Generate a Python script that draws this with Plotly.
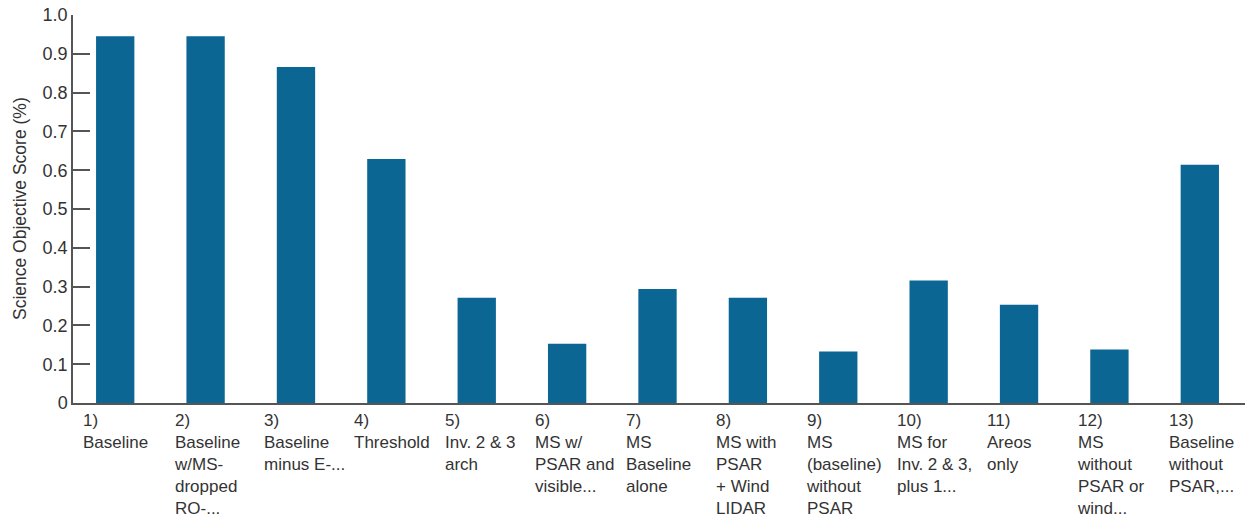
import plotly.graph_objects as go

categories = [
    "1)<br>Baseline",
    "2)<br>Baseline<br>w/MS-<br>dropped<br>RO-...",
    "3)<br>Baseline<br>minus E-...",
    "4)<br>Threshold",
    "5)<br>Inv. 2 & 3<br>arch",
    "6)<br>MS w/<br>PSAR and<br>visible...",
    "7)<br>MS<br>Baseline<br>alone",
    "8)<br>MS with<br>PSAR<br>+ Wind<br>LIDAR",
    "9)<br>MS<br>(baseline)<br>without<br>PSAR",
    "10)<br>MS for<br>Inv. 2 & 3,<br>plus 1...",
    "11)<br>Areos<br>only",
    "12)<br>MS<br>without<br>PSAR or<br>wind...",
    "13)<br>Baseline<br>without<br>PSAR,...",
]
scores = [0.945, 0.945, 0.866, 0.629, 0.271, 0.153, 0.294, 0.271, 0.133, 0.316, 0.253, 0.138, 0.614]

y_tickvals = [0, 0.1, 0.2, 0.3, 0.4, 0.5, 0.6, 0.7, 0.8, 0.9, 1.0]
y_ticktext = ["0", "0.1", "0.2", "0.3", "0.4", "0.5", "0.6", "0.7", "0.8", "0.9", "1.0"]
y_title = "Science Objective Score (%)"

FONT = "Liberation Sans, Arial, sans-serif"
TEXT = "#333333"
AXIS = "#555555"

fig = go.Figure()
fig.add_trace(go.Bar(
    x=categories,
    y=scores,
    marker=dict(color="#0b6694", line=dict(width=0)),
    width=0.424,
    hoverinfo="x+y",
))

for c in categories:
    fig.add_annotation(
        x=c, xref="x", y=0, yref="paper",
        text=c, showarrow=False,
        xanchor="left", yanchor="top", align="left",
        xshift=-34, yshift=-6,
        font=dict(family=FONT, size=17, color=TEXT),
    )

fig.add_annotation(
    x=0, xref="paper", y=0.5, yref="paper",
    text=y_title, showarrow=False, textangle=-90,
    xanchor="center", yanchor="middle", xshift=-53,
    font=dict(family=FONT, size=17.5, color=TEXT),
)

fig.update_layout(
    width=1249, height=523,
    margin=dict(l=73, r=4, t=14.5, b=119.5),
    plot_bgcolor="white", paper_bgcolor="white",
    showlegend=False,
    font=dict(family=FONT, size=17, color=TEXT),
    xaxis=dict(
        type="category",
        range=[-0.467, 12.5],
        showticklabels=False,
        ticks="",
        showline=True, linecolor=AXIS, linewidth=1.5,
        showgrid=False, zeroline=False,
        fixedrange=True,
    ),
    yaxis=dict(
        range=[0, 1.0],
        tickvals=y_tickvals, ticktext=y_ticktext,
        ticks="inside", ticklen=17, tickcolor=AXIS, tickwidth=1.5,
        showline=True, linecolor=AXIS, linewidth=1.5,
        showgrid=False, zeroline=False,
        tickfont=dict(family=FONT, size=18, color=TEXT),
        fixedrange=True,
    ),
)

fig.write_html(
    "out.html",
    config={"displayModeBar": False},
    post_script="document.body.style.margin='0';document.body.style.overflow='hidden';",
)
